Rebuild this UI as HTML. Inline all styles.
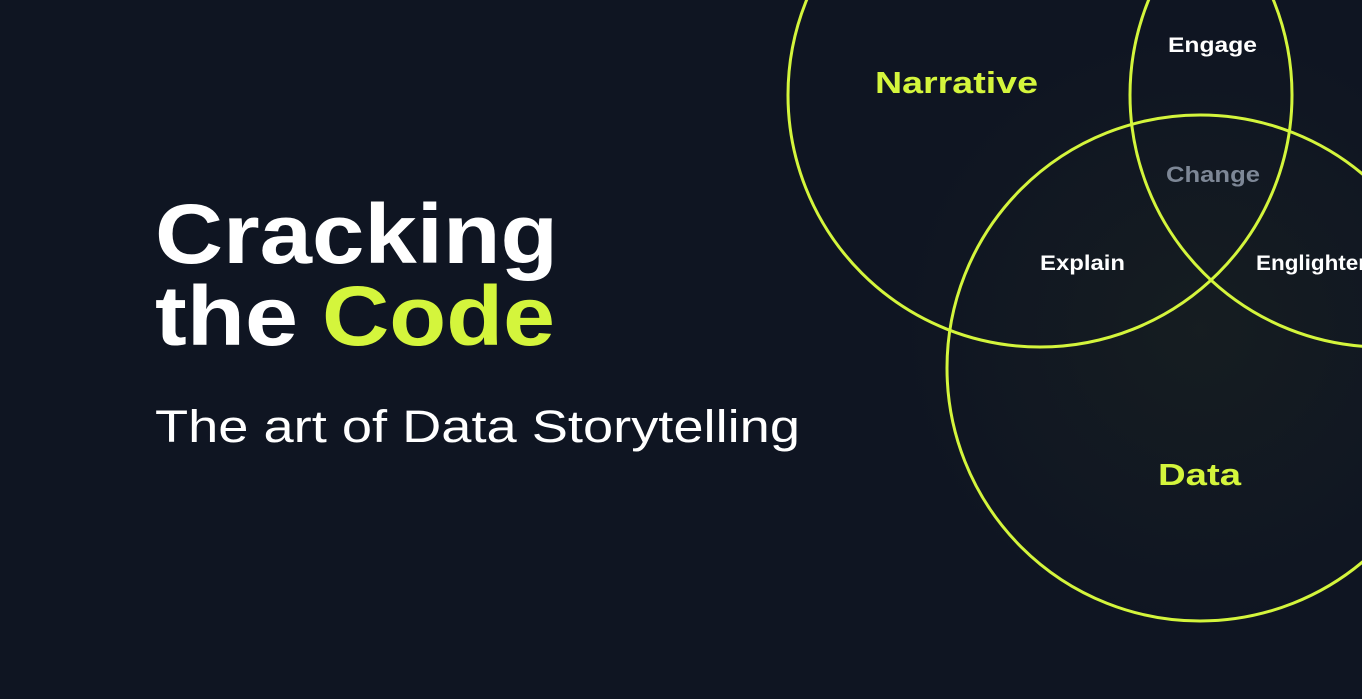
<!DOCTYPE html>
<html><head><style>
html,body{margin:0;padding:0;background:#0f1522;}
svg{display:block}
text{font-family:"Liberation Sans",sans-serif;font-weight:bold}
</style></head><body>
<svg width="1362" height="699" viewBox="0 0 1362 699" xmlns="http://www.w3.org/2000/svg">
<defs>
<radialGradient id="g" cx="1200" cy="330" r="300" gradientUnits="userSpaceOnUse">
<stop offset="0" stop-color="#1a2220"/><stop offset="1" stop-color="#0f1522"/>
</radialGradient>
</defs>
<rect width="1362" height="699" fill="#0f1522"/>
<rect x="880" y="0" width="482" height="699" fill="url(#g)" opacity="0.6"/>
<g fill="none" stroke="#d4f53c" stroke-width="3">
<circle cx="1040" cy="95" r="252"/>
<circle cx="1382" cy="95" r="252"/>
<circle cx="1200" cy="368" r="253"/>
</g>
<text x="155" y="263" font-size="84" fill="#ffffff" textLength="403" lengthAdjust="spacingAndGlyphs">Cracking</text>
<text x="155" y="345" font-size="84" fill="#ffffff" textLength="143" lengthAdjust="spacingAndGlyphs">the</text>
<text x="322" y="345" font-size="84" fill="#d4f53c" textLength="233" lengthAdjust="spacingAndGlyphs">Code</text>
<text x="155" y="442" font-size="45" font-weight="normal" style="font-weight:normal" fill="#ffffff" textLength="645" lengthAdjust="spacingAndGlyphs">The art of Data Storytelling</text>
<text x="875" y="93" font-size="31" fill="#d4f53c" textLength="163" lengthAdjust="spacingAndGlyphs">Narrative</text>
<text x="1168" y="52" font-size="21" fill="#ffffff" textLength="89" lengthAdjust="spacingAndGlyphs">Engage</text>
<text x="1166" y="182" font-size="22" fill="#7d8796" textLength="94" lengthAdjust="spacingAndGlyphs">Change</text>
<text x="1040" y="270" font-size="21" fill="#ffffff" textLength="85" lengthAdjust="spacingAndGlyphs">Explain</text>
<text x="1256" y="270" font-size="21" fill="#ffffff" textLength="116" lengthAdjust="spacingAndGlyphs">Englighten</text>
<text x="1158" y="485" font-size="31" fill="#d4f53c" textLength="83" lengthAdjust="spacingAndGlyphs">Data</text>
</svg>
</body></html>
